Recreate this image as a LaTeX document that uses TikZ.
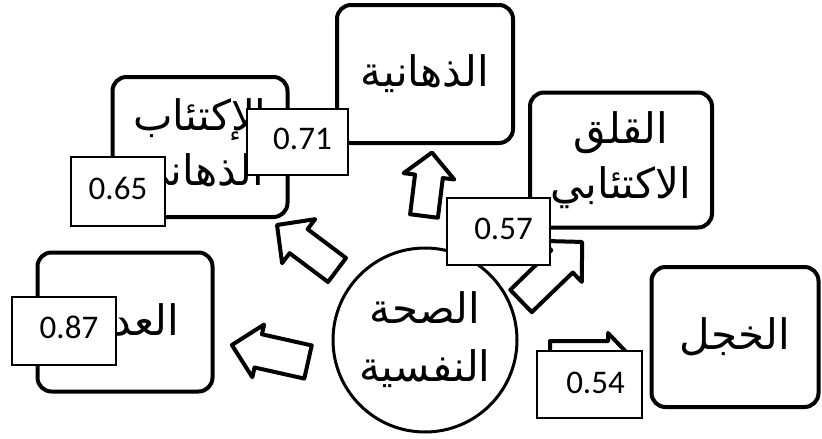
\documentclass[tikz,border=0pt]{standalone}
\usepackage{fontspec}
\setmainfont{Carlito}
\newfontfamily\arabicfont[Script=Arabic]{DejaVu Sans}
\TeXXeTstate=1
\usetikzlibrary{calc}
\definecolor{k}{HTML}{000000}
\definecolor{w}{HTML}{FFFFFF}

\tikzset{
    factor/.style={draw=k, line width=4pt, rounded corners=14pt, fill=w, align=center,
        font=\arabicfont\fontsize{42}{55}\selectfont},
    centre/.style={draw=k, line width=3pt, circle, fill=w, align=center, minimum size=184,
        font=\arabicfont\fontsize{42}{58}\selectfont},
    valbox/.style={draw=k, line width=1.1pt, fill=w, inner sep=0pt},
    valtext/.style={font=\fontsize{33}{36}\selectfont, inner sep=0pt},
    fatarrow/.style={draw=k, line width=4pt, fill=w, line join=round}
}

\begin{document}
\begin{tikzpicture}[x=1pt, y=-1pt]
			\useasboundingbox (0,0) rectangle (822,439);

			% Block arrows pointing out of the centre
			\foreach \tx/\ty/\ang/\len/\sw/\hw/\hl in {337/270/143.1/75/30/55/27, 424/216/82.9/64/28/51/24,
					521/301/44/85/31/57/28, 308/362/167.4/78/34/54/27, 550/356/0/80/30/46/22} {
					\begin{scope}[shift={(\tx,\ty)}, rotate=\ang]
						\draw[fatarrow] (0,-\sw/2) -- (\len-\hl,-\sw/2) -- (\len-\hl,-\hw/2) -- (\len,0)
							-- (\len-\hl,\hw/2) -- (\len-\hl,\sw/2) -- (0,\sw/2) -- cycle;
					\end{scope}
				}

			% Centre circle
			\node[centre] (health) at (425,340) {\beginR الصحة\endR\\\beginR النفسية\endR};

			% Factor boxes
			\node[factor, minimum width=176, minimum height=138] (psycho) at (425,74) {\beginR الذهانية\endR};
			\node[factor, minimum width=175, minimum height=140] (depress) at (200,147)
				{\beginR الإكتئاب\endR\\\beginR الذهاني\endR};
			\node[factor, minimum width=182, minimum height=135] (anxiety) at (621,160)
				{\beginR القلق\endR\\\beginR الاكتئابي\endR};
			\node[factor, minimum width=175, minimum height=139] (hostile) at (125,322) {};
			\node[font=\arabicfont\fontsize{42}{55}\selectfont, anchor=east, inner sep=0pt] (hostxt)
				at ($(hostile.center)+(54,-2)$) {\beginR العد\endR};
			\node[factor, minimum width=167, minimum height=140] (shy) at (735,337) {\beginR الخجل\endR};

			% Value labels
			\node[valbox, minimum width=101, minimum height=66,
				label={[valtext, xshift=5, yshift=3]center:0.71}] (v71) at (297.5,142) {};
			\node[valbox, minimum width=94, minimum height=69,
				label={[valtext, yshift=3]center:0.65}] (v65) at (118,191.5) {};
			\node[valbox, minimum width=103, minimum height=67,
				label={[valtext, xshift=5, yshift=3]center:0.57}] (v57) at (498.5,231.5) {};
			\node[valbox, minimum width=104, minimum height=68,
				label={[valtext, xshift=5, yshift=4]center:0.87}] (v87) at (64,331) {};
			\node[valbox, minimum width=105, minimum height=67,
				label={[valtext, xshift=6, yshift=2]center:0.54}] (v54) at (589.5,384.5) {};
		\end{tikzpicture}
\end{document}
